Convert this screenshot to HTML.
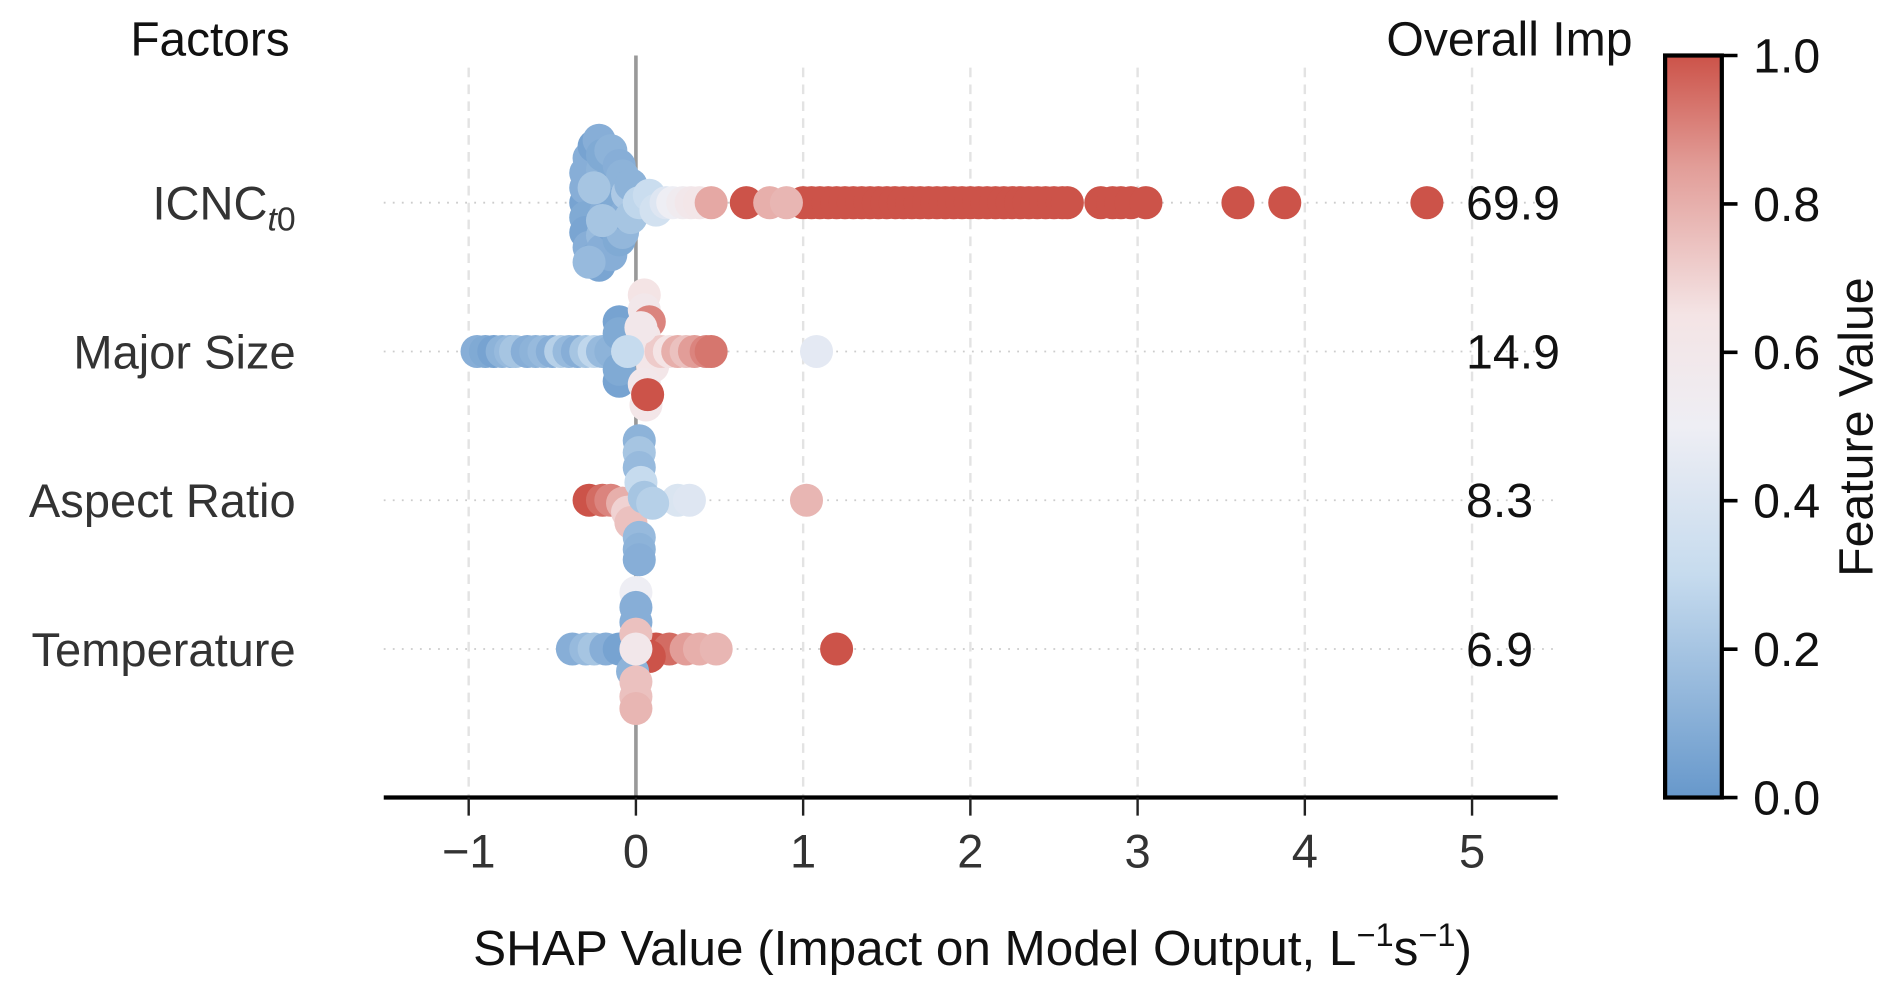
<!DOCTYPE html>
<html><head><meta charset="utf-8">
<style>
html,body{margin:0;padding:0;background:#fff;}
svg{display:block;font-family:"Liberation Sans",Arial,sans-serif;}
</style></head>
<body>
<svg id="chart" width="1892" height="993" viewBox="0 0 1568 823" xmlns="http://www.w3.org/2000/svg">
<defs>
<linearGradient id="cbgrad" x1="0" y1="1" x2="0" y2="0">
<stop offset="0" stop-color="#6798cb"/>
<stop offset="0.3" stop-color="#c6dbee"/>
<stop offset="0.5" stop-color="#eeeef4"/>
<stop offset="0.65" stop-color="#f4e4e5"/>
<stop offset="0.85" stop-color="#e29d98"/>
<stop offset="1" stop-color="#cc5349"/>
</linearGradient>
</defs>
<g id="grid"></g>
<g id="rows"></g>
<line x1="527" y1="46" x2="527" y2="661" stroke="#999" stroke-width="3"/>
<g id="dots"></g>
<g id="axis"></g>
<text x="240" y="46" font-size="40" text-anchor="end" fill="#111" textLength="132" lengthAdjust="spacingAndGlyphs">Factors</text>
<text x="1353" y="46" font-size="40" text-anchor="end" fill="#111" textLength="204" lengthAdjust="spacingAndGlyphs">Overall Imp</text>
<text x="806" y="800" font-size="41" text-anchor="middle" fill="#111">SHAP Value (Impact on Model Output, L<tspan dy="-16" font-size="27">−1</tspan><tspan dy="16">s</tspan><tspan dy="-16" font-size="27">−1</tspan><tspan dy="16">)</tspan></text>
<g>
<rect x="1380" y="46" width="47" height="615" fill="url(#cbgrad)" stroke="#000" stroke-width="3.5"/>
</g>
<g id="cbticks"></g>
<text transform="translate(1552,354) rotate(-90)" font-size="40" text-anchor="middle" fill="#111">Feature Value</text>
</svg>
<script>
const NS="http://www.w3.org/2000/svg";
const features=["ICNC","Major Size","Aspect Ratio","Temperature"];
const importance=["69.9","14.9","8.3","6.9"];
const xTicks=[-1,0,1,2,3,4,5];
const xTickLabels=["−1","0","1","2","3","4","5"];
const cbTicks=[0,0.2,0.4,0.6,0.8,1.0];
const cbTickLabels=["0.0","0.2","0.4","0.6","0.8","1.0"];
// per feature: shap values, feature values, vertical swarm offsets (fraction of row)
const icncShap=[-0.3,-0.3,-0.3,-0.3,-0.3,-0.28,-0.28,-0.25,-0.25,-0.22,-0.22,-0.2,-0.2,-0.2,-0.2,-0.18,-0.18,-0.15,-0.15,-0.15,-0.15,-0.12,-0.1,-0.1,-0.1,-0.08,-0.08,-0.06,-0.05,-0.03,-0.03,-0.25,-0.2,-0.28,0.02,0.08,0.12,0.18,0.22,0.28,0.33,0.38,0.45,0.66,1.0,1.05,1.1,1.15,1.2,1.25,1.3,1.35,1.4,1.45,1.5,1.55,1.6,1.65,1.7,1.75,1.8,1.85,1.9,1.95,2.0,2.05,2.1,2.15,2.2,2.25,2.3,2.35,2.4,2.45,2.5,2.55,2.58,2.78,2.85,2.9,2.96,3.05,3.6,3.88,4.73,0.8,0.9];
const icncVal=[0.05,0.1,0.08,0.1,0.06,0.1,0.1,0.05,0.08,0.1,0.06,0.12,0.15,0.08,0.1,0.1,0.06,0.12,0.1,0.08,0.06,0.08,0.15,0.1,0.08,0.12,0.14,0.1,0.22,0.2,0.12,0.2,0.2,0.15,0.28,0.32,0.36,0.42,0.5,0.55,0.6,0.62,0.82,1,1,1,1,1,1,1,1,1,1,1,1,1,1,1,1,1,1,1,1,1,1,1,1,1,1,1,1,1,1,1,1,1,1,1,1,1,1,1,1,1,1,0.8,0.78];
const icncOff=[0,-0.1,0.1,-0.2,0.2,-0.3,0.3,-0.38,0.38,-0.42,0.42,-0.22,0.22,-0.32,0.32,0.06,-0.1,-0.35,0.35,-0.15,0.15,-0.05,0.15,-0.25,0.25,-0.18,0.2,0.08,-0.06,0.1,-0.12,-0.1,0.12,0.4,0,-0.05,0.05,0,0,0,0,0,0,0,0,0,0,0,0,0,0,0,0,0,0,0,0,0,0,0,0,0,0,0,0,0,0,0,0,0,0,0,0,0,0,0,0,0,0,0,0,0,0,0,0,0,0];
const majShap=[-0.95,-0.9,-0.85,-0.8,-0.75,-0.72,-0.65,-0.6,-0.55,-0.5,-0.45,-0.4,-0.35,-0.3,-0.25,-0.2,-0.15,-0.1,-0.1,-0.1,-0.1,0.05,0.05,0.08,0.05,0.1,0.05,0.06,0.15,0.2,0.25,0.3,0.35,0.42,0.45,0.03,-0.05,0.07,1.08];
const majVal=[0.1,0.08,0.05,0.12,0.15,0.2,0.1,0.12,0.15,0.1,0.25,0.15,0.1,0.2,0.28,0.15,0.12,0.05,0.05,0.08,0.08,0.65,0.6,0.9,0.62,0.62,0.6,0.62,0.72,0.65,0.8,0.75,0.85,0.9,0.93,0.6,0.3,1,0.45];
const majOff=[0,0,0,0,0,0,0,0,0,0,0,0,0,0,0,0,0,-0.2,0.2,-0.12,0.12,-0.38,-0.28,-0.2,-0.1,0.1,0.22,0.36,0,0,0,0,0,0,0,-0.16,0,0.29,0];
const arShap=[-0.28,-0.2,-0.15,-0.08,0.25,0.32,0.02,0.02,0.02,0.03,-0.05,-0.03,0.02,0.02,0.02,0.05,0.1,1.02];
const arVal=[1,0.95,0.9,0.8,0.4,0.42,0.12,0.2,0.15,0.3,0.7,0.75,0.15,0.12,0.1,0.2,0.25,0.78];
const arOff=[0,0,0,0.02,0,0,-0.4,-0.32,-0.22,-0.12,0.08,0.15,0.25,0.33,0.4,-0.02,0.02,0];
const tempShap=[-0.38,-0.3,-0.25,-0.18,-0.1,0.12,0.2,0.3,0.38,0.48,0.0,0.0,0.0,0.0,0.08,-0.02,0.0,0.0,0.0,0.0,1.2];
const tempVal=[0.1,0.15,0.2,0.1,0.05,1,0.95,0.85,0.8,0.78,0.5,0.1,0.1,0.75,1,0.12,0.75,0.75,0.78,0.6,1];
const tempOff=[0,0,0,0,0,0,0,0,0,0,-0.38,-0.28,-0.18,-0.1,0.05,0.15,0.22,0.32,0.4,0,0];
const series=[[icncShap,icncVal,icncOff],[majShap,majVal,majOff],[arShap,arVal,arOff],[tempShap,tempVal,tempOff]];

const svg=document.getElementById('chart');
const X=v=>527+v*138.6;
const Y=i=>168+i*123.3;
const CB=v=>661-v*615;
const stops=[[0,[103,152,203]],[0.3,[198,219,238]],[0.5,[238,238,244]],[0.65,[244,228,229]],[0.85,[226,157,152]],[1,[204,83,73]]];
function color(v){
  for(let i=1;i<stops.length;i++){
    if(v<=stops[i][0]){const a=stops[i-1],b=stops[i];const t=(v-a[0])/(b[0]-a[0]);
      const c=a[1].map((x,k)=>Math.round(x+(b[1][k]-x)*t));return `rgb(${c[0]},${c[1]},${c[2]})`;}
  }
  return 'rgb(204,83,73)';
}
function mk(tag,attrs,parent){const e=document.createElementNS(NS,tag);for(const k in attrs)e.setAttribute(k,attrs[k]);parent.appendChild(e);return e;}
const grid=document.getElementById('grid');
xTicks.forEach(t=>{
  if(t===0)return;
  const l=mk('line',{x1:X(t),x2:X(t),y1:56,y2:661,stroke:'#e3e3e3','stroke-width':2,'stroke-dasharray':'8,6'},grid);
  
  
});
const rows=document.getElementById('rows');
features.forEach((f,i)=>{
  const l=mk('line',{x1:318,x2:1290,y1:Y(i),y2:Y(i),stroke:'#ccc','stroke-width':1.5,'stroke-dasharray':'1.5,6'},rows);
  
  
  const t=mk('text',{x:245,y:Y(i)+14,'font-size':39,'text-anchor':'end',fill:'#333'},rows);
  
  
  if(i===0){t.textContent='ICNC';const s=mk('tspan',{dy:9,'font-size':28,'font-style':'italic'},t);s.textContent='t';const s2=mk('tspan',{'font-size':28},t);s2.textContent='0';}
  else t.textContent=f;
  const v=mk('text',{x:1215,y:Y(i)+14,'font-size':40,fill:'#111'},rows);
  
  
  v.textContent=importance[i];
});
const dots=document.getElementById('dots');
series.forEach((s,i)=>{
  const [sh,fv,off]=s;
  sh.forEach((x,j)=>{
    const c=mk('circle',{cx:X(x),cy:Y(i)+off[j]*123.3,r:13.7,fill:color(fv[j])},dots);
    
    
  });
});
const ax=document.getElementById('axis');
const al=mk('line',{x1:318,x2:1291,y1:661,y2:661,stroke:'#000','stroke-width':3.5},ax);


xTicks.forEach((t,i)=>{
  const l=mk('line',{x1:X(t),x2:X(t),y1:661,y2:676,stroke:'#222','stroke-width':2},ax);
  
  
  const tx=mk('text',{x:X(t),y:719,'font-size':39,'text-anchor':'middle',fill:'#333'},ax);
  
  
  tx.textContent=xTickLabels[i];
});
const cb=document.getElementById('cbticks');
cbTicks.forEach((t,i)=>{
  const l=mk('line',{x1:1427,x2:1440,y1:CB(t),y2:CB(t),stroke:'#000','stroke-width':3},cb);
  
  
  const tx=mk('text',{x:1453,y:CB(t)+14,'font-size':40,fill:'#111'},cb);
  
  
  tx.textContent=cbTickLabels[i];
});
</script>
</body></html>
